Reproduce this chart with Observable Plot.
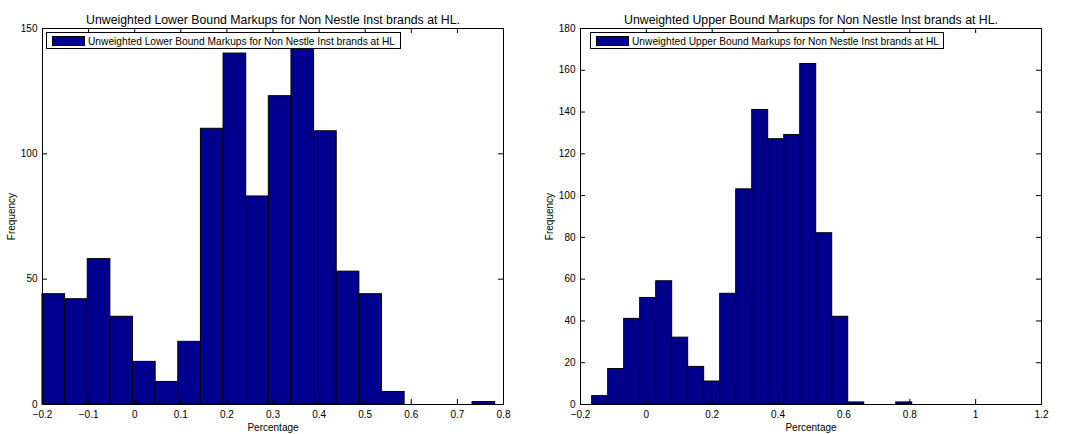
<!DOCTYPE html>
<html>
<head>
<meta charset="utf-8">
<script src="https://cdn.jsdelivr.net/npm/d3@7"></script>
<script src="https://cdn.jsdelivr.net/npm/@observablehq/plot@0.6"></script>
<style>
  html, body { margin: 0; padding: 0; background: white; }
  #wrap { display: flex; width: 1070px; height: 434px; }
  .panel { position: relative; width: 535px; height: 434px; }
  .legend { position: absolute; height: 17px; border: 1px solid black; background: white;
            font-family: "Liberation Sans", Arial, sans-serif; font-size: 10.2px; line-height: 17px; white-space: nowrap; box-sizing: border-box; }
  .legend .sw { position: absolute; left: 5px; top: 3px; width: 33px; height: 10px; background: #00008F; border: 1px solid black; box-sizing: border-box; }
  .legend .tx { position: absolute; left: 41px; top: 0; }
</style>
</head>
<body>
<div id="wrap"></div>
<script>
// ---- Data ----
const lowerTitle = "Unweighted Lower Bound Markups for Non Nestle Inst brands at HL.";
const lowerLegend = "Unweighted Lower Bound Markups for Non Nestle Inst brands at HL";
const lowerBinWidth = 0.0491;
const lowerCenters = [-0.1755, -0.1264, -0.0773, -0.0282, 0.0209, 0.0700, 0.1191, 0.1682, 0.2173, 0.2664,
                      0.3155, 0.3646, 0.4137, 0.4628, 0.5119, 0.5610, 0.6101, 0.6592, 0.7083, 0.7574];
const lowerCounts = [44, 42, 58, 35, 17, 9, 25, 110, 140, 83, 123, 148, 109, 53, 44, 5, 0, 0, 0, 1];
const lowerXTicks = [-0.2, -0.1, 0, 0.1, 0.2, 0.3, 0.4, 0.5, 0.6, 0.7, 0.8];
const lowerYTicks = [0, 50, 100, 150];

const upperTitle = "Unweighted Upper Bound Markups for Non Nestle Inst brands at HL.";
const upperLegend = "Unweighted Upper Bound Markups for Non Nestle Inst brands at HL";
const upperBinWidth = 0.0486;
const upperCenters = [-0.1403, -0.0917, -0.0431, 0.0055, 0.0541, 0.1027, 0.1513, 0.1999, 0.2485, 0.2971,
                      0.3457, 0.3943, 0.4429, 0.4915, 0.5401, 0.5887, 0.6373, 0.6859, 0.7345, 0.7831];
const upperCounts = [4, 17, 41, 51, 59, 32, 18, 11, 53, 103, 141, 127, 129, 163, 82, 42, 1, 0, 0, 1];
const upperXTicks = [-0.2, 0, 0.2, 0.4, 0.6, 0.8, 1, 1.2];
const upperYTicks = [0, 20, 40, 60, 80, 100, 120, 140, 160, 180];

const fmt = d => d < 0 ? "\u2212" + Math.abs(d) : String(d);

function panel(opts) {
  const W = 535, H = 434, mt = 28, mb = 30;
  const plotW = W - opts.ml - opts.mr, plotH = H - mt - mb;
  const bins = opts.centers.map((c, i) => ({c, n: opts.counts[i]}));
  const w = opts.binWidth;
  const chart = Plot.plot({
    width: W, height: H,
    marginLeft: opts.ml, marginRight: opts.mr, marginTop: mt, marginBottom: mb,
    x: {domain: [opts.xTicks[0], opts.xTicks[opts.xTicks.length - 1]]},
    y: {domain: [opts.yTicks[0], opts.yTicks[opts.yTicks.length - 1]]},
    style: {fontFamily: "'Liberation Sans', Arial, sans-serif", fontSize: "10px", background: "white", color: "black"},
    marks: [
      Plot.rectY(bins, {x1: d => d.c - w / 2, x2: d => d.c + w / 2, y: "n", fill: "#00008F", stroke: "black", strokeWidth: 1}),
      Plot.tickX(opts.xTicks, {x: d => d, insetTop: plotH - 5, stroke: "black"}),
      Plot.tickX(opts.xTicks, {x: d => d, insetBottom: plotH - 5, stroke: "black"}),
      Plot.tickY(opts.yTicks, {y: d => d, insetRight: plotW - 5, stroke: "black"}),
      Plot.tickY(opts.yTicks, {y: d => d, insetLeft: plotW - 5, stroke: "black"}),
      Plot.frame({stroke: "black"}),
      Plot.axisX(opts.xTicks, {tickSize: 0, tickPadding: 6, tickFormat: fmt, fontSize: 10, label: "Percentage", labelAnchor: "center", labelOffset: 26, labelArrow: "none"}),
      Plot.axisY(opts.yTicks, {tickSize: 0, tickPadding: 5, fontSize: 10, label: "Frequency", labelAnchor: "center", labelOffset: 35, labelArrow: "none"}),
      Plot.text([opts.title], {text: d => d, frameAnchor: "top", dy: -13, fontSize: 12.3})
    ]
  });
  const div = document.createElement("div");
  div.className = "panel";
  div.appendChild(chart);
  const lg = document.createElement("div");
  lg.className = "legend";
  lg.style.left = opts.legLeft + "px";
  lg.style.top = "32px";
  lg.style.width = opts.legWidth + "px";
  lg.innerHTML = '<div class="sw"></div><div class="tx"></div>';
  lg.querySelector(".tx").textContent = opts.legend;
  div.appendChild(lg);
  return div;
}

const wrap = document.getElementById("wrap");
wrap.appendChild(panel({title: lowerTitle, legend: lowerLegend, centers: lowerCenters, counts: lowerCounts, binWidth: lowerBinWidth,
  xTicks: lowerXTicks, yTicks: lowerYTicks, ml: 42, mr: 32, legLeft: 46, legWidth: 355}));
wrap.appendChild(panel({title: upperTitle, legend: upperLegend, centers: upperCenters, counts: upperCounts, binWidth: upperBinWidth,
  xTicks: upperXTicks, yTicks: upperYTicks, ml: 45, mr: 29, legLeft: 55, legWidth: 354}));
</script>
</body>
</html>
